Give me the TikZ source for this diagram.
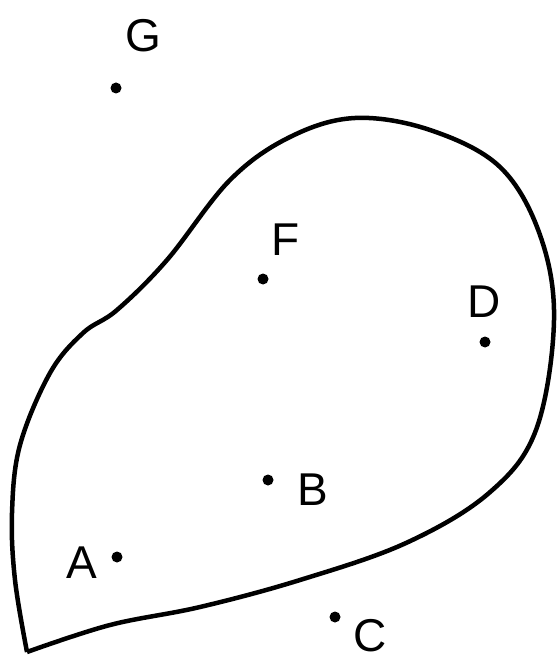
\documentclass[tikz,border=0pt]{standalone}
\usepackage{fontspec}
\setmainfont{Liberation Sans}
\begin{document}
\begin{tikzpicture}[x=1pt,y=-1pt,
  pt/.style={circle,fill=black,inner sep=0pt,minimum size=11pt},
  lbl/.style={font=\fontsize{46}{46}\selectfont}]
\useasboundingbox (0,0) rectangle (556,660);
\draw[line width=4.5pt,line join=round] plot[smooth,tension=0.6] coordinates {
 (27,652) (15,580) (12,513) (20,445) (50,373) (83,333) (117,310)
 (167,260) (230,180) (290,137) (355,118)
 (430,130) (500,167) (540,235) (554,320)
 (536,430) (489,493) (406,543) (300,580)
 (200,607) (110,625) (27,652)};
\node[pt] (g) at (116,88) {};
\node[lbl] (gl) at (143,36) {G};
\node[pt] (f) at (263,279) {};
\node[lbl] (fl) at (286,240) {F};
\node[pt] (d) at (485,342) {};
\node[lbl] (dl) at (484,302) {D};
\node[pt] (b) at (268,480) {};
\node[lbl] (bl) at (313,490) {B};
\node[pt] (a) at (117,557) {};
\node[lbl] (al) at (82,563) {A};
\node[pt] (c) at (335,617) {};
\node[lbl] (cl) at (370,636) {C};
\end{tikzpicture}
\end{document}
